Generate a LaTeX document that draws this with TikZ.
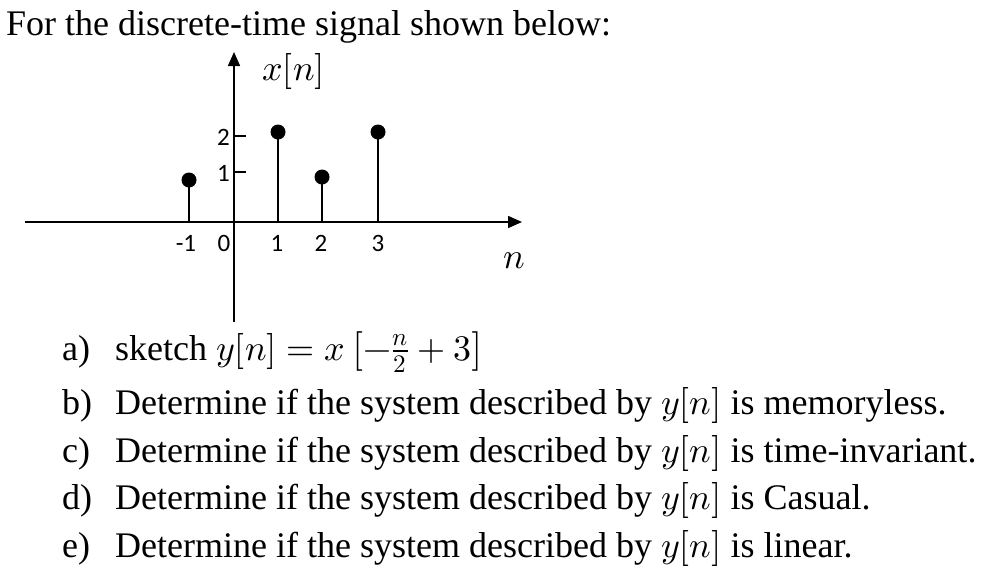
\documentclass[tikz,border=0pt]{standalone}
\usepackage{fontspec}
\usepackage{unicode-math}
\setmainfont{Liberation Serif}
\setmathfont{Latin Modern Math}
\newfontfamily\axf{Carlito}
\usetikzlibrary{arrows.meta}
\begin{document}
\begin{tikzpicture}[x=1pt,y=-1pt,
  txt/.style={anchor=base west,inner sep=0,font=\fontsize{36}{40}\selectfont},
  ax/.style={line width=1.6pt,-{Triangle[length=14pt,width=12pt]}},
  stem/.style={line width=1.6pt},
  dotn/.style={circle,fill=black,inner sep=0,minimum size=15pt},
  lab/.style={inner sep=0,font=\axf\fontsize{25}{27}\selectfont}]
\useasboundingbox (0,0) rectangle (987,571);
\node[txt] (title) at (6,35) {For the discrete-time signal shown below:};
\coordinate (hl) at (25,222); \coordinate (hr) at (522,222);
\coordinate (vb) at (234,322); \coordinate (vt) at (234,52);
\draw[ax] (hl) -- (hr);
\draw[ax] (vb) -- (vt);
\node[txt] (xn) at (262,80) {$x[n]$};
\node[txt] (nl) at (503,268) {$n$};
\coordinate (t2) at (234,136); \coordinate (t2e) at (246,136);
\coordinate (t1) at (234,172); \coordinate (t1e) at (246,172);
\draw[line width=1.2pt] (t2) -- (t2e); \draw[line width=1.2pt] (t1) -- (t1e);
\node[lab,anchor=east] (l2) at (230,137) {2};
\node[lab,anchor=east] (l1) at (230,173) {1};
\node[lab] (lm1) at (186,243) {-1};
\node[lab] (l0) at (224,243) {0};
\node[lab] (lp1) at (277,243) {1};
\node[lab] (lp2) at (321,243) {2};
\node[lab] (lp3) at (378,243) {3};
\foreach \nm/\x/\y in {a/189/180, b/278/132, c/322/177, d/378/132}{
  \coordinate (b\nm) at (\x,222);
  \node[dotn] (d\nm) at (\x,\y) {};
  \draw[stem] (b\nm) -- (d\nm.center);
}
\foreach \nm/\y/\l/\t in {a/360/a)/{sketch $y[n]=x\left[-\frac{n}{2}+3\right]$},
  b/414/b)/{Determine if the system described by $y[n]$ is memoryless.},
  c/462/c)/{Determine if the system described by $y[n]$ is time-invariant.},
  d/509/d)/{Determine if the system described by $y[n]$ is Casual.},
  e/557/e)/{Determine if the system described by $y[n]$ is linear.}}{
  \node[txt] (k\nm) at (62,\y) {\l};
  \node[txt] (q\nm) at (115,\y) {\t};
}
\end{tikzpicture}
\end{document}
